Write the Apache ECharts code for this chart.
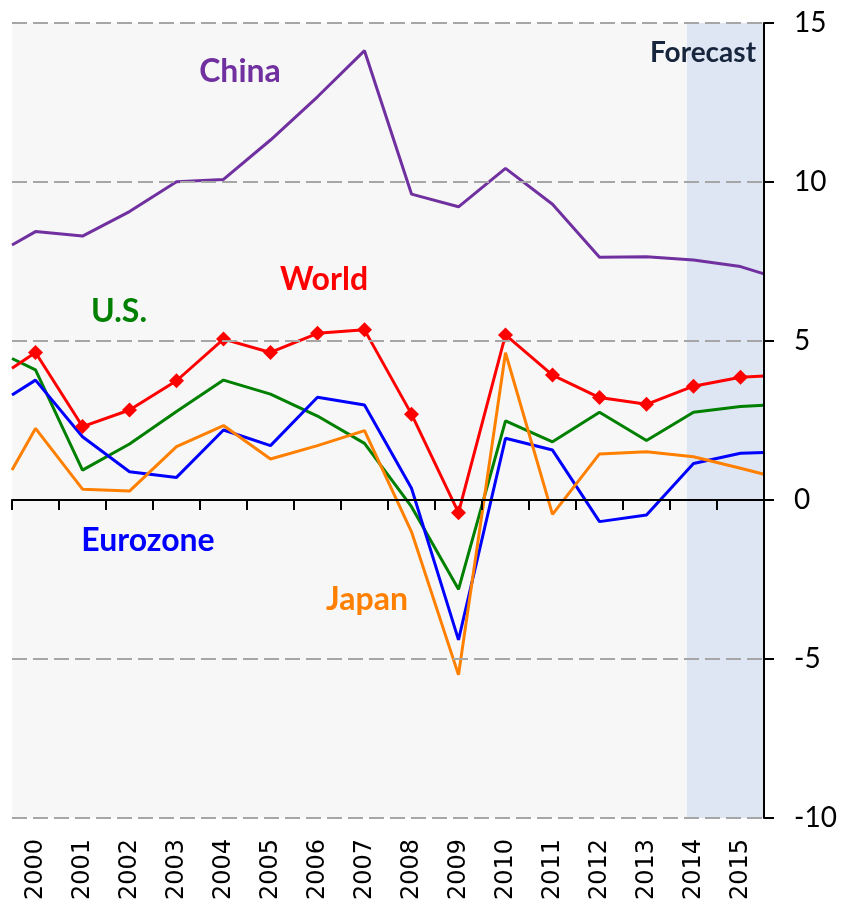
<!DOCTYPE html>
<html><head><meta charset="utf-8">
<script src="https://cdn.jsdelivr.net/npm/echarts@6/dist/echarts.min.js"></script>
<style>html,body{margin:0;padding:0;background:#fff}#c{width:842px;height:909px}</style>
</head><body><div id="c"></div>
<script>
// Category labels
const years = ['2000','2001','2002','2003','2004','2005','2006','2007','2008','2009','2010','2011','2012','2013','2014','2015'];
const yearValues = [2000,2001,2002,2003,2004,2005,2006,2007,2008,2009,2010,2011,2012,2013,2014,2015];
// Plot edges (lines run edge to edge)
const leftEdge = 1999.5, rightEdge = 2015.5;
const forecastStart = 2013.86;
// Y ticks
const yMin = -10, yMax = 15, yStep = 5;

// Series values (2000..2015) and values read at the left/right plot edges
const china    = [8.44, 8.30, 9.07, 10.01, 10.08, 11.32, 12.68, 14.13, 9.62, 9.22, 10.43, 9.30, 7.63, 7.65, 7.55, 7.34];
const chinaEdges = [8.02, 7.11];
const world    = [4.64, 2.31, 2.83, 3.75, 5.06, 4.64, 5.24, 5.35, 2.70, -0.40, 5.19, 3.93, 3.22, 3.01, 3.58, 3.86];
const worldEdges = [4.14, 3.90];
const us       = [4.09, 0.94, 1.76, 2.78, 3.77, 3.33, 2.64, 1.78, -0.21, -2.81, 2.49, 1.83, 2.76, 1.87, 2.76, 2.94];
const usEdges = [4.45, 2.98];
const eurozone = [3.77, 1.99, 0.89, 0.71, 2.20, 1.71, 3.23, 2.99, 0.37, -4.40, 1.94, 1.57, -0.68, -0.47, 1.15, 1.47];
const euroEdges = [3.30, 1.49];
const japan    = [2.25, 0.34, 0.28, 1.68, 2.34, 1.29, 1.71, 2.18, -1.00, -5.50, 4.63, -0.45, 1.45, 1.52, 1.36, 1.00];
const japanEdges = [0.94, 0.81];

function build(vals, edges) {
  const d = [{value: [leftEdge, edges[0]], symbol: 'none'}];
  vals.forEach((v, i) => d.push({value: [yearValues[i], v]}));
  d.push({value: [rightEdge, edges[1]], symbol: 'none'});
  return d;
}

const FONT = 'Lato';
function lineSeries(name, vals, edges, color, extra) {
  return Object.assign({
    name, type: 'line', xAxisIndex: 2, yAxisIndex: 0, clip: true,
    data: build(vals, edges), symbol: 'none', z: 2,
    lineStyle: {color, width: 3}, itemStyle: {color}, animation: false
  }, extra || {});
}

const chart = echarts.init(document.getElementById('c'));
chart.setOption({
  animation: false,
  backgroundColor: '#ffffff',
  grid: {left: 12, right: 78, top: 23, bottom: 91, show: true, backgroundColor: '#f7f7f7', borderWidth: 0, containLabel: false},
  xAxis: [
    {type: 'category', data: years, boundaryGap: true, position: 'bottom', z: 25,
     axisLine: {show: true, onZero: true, lineStyle: {color: '#000', width: 2}},
     axisTick: {show: true, length: 10, lineStyle: {color: '#000', width: 2}},
     axisLabel: {show: false}, splitLine: {show: false}},
    {type: 'category', data: years, boundaryGap: true, position: 'bottom',
     axisLine: {show: false, onZero: false}, axisTick: {show: false}, splitLine: {show: false},
     axisLabel: {show: true, rotate: 90, fontSize: 24, color: '#000', margin: 21, fontFamily: 'DejaVu Sans'}},
    {type: 'value', min: leftEdge, max: rightEdge, show: false, splitLine: {show: false}}
  ],
  yAxis: {
    type: 'value', position: 'right', min: yMin, max: yMax, interval: yStep, z: 20,
    axisLine: {show: true, onZero: false, lineStyle: {color: '#000', width: 2}},
    axisTick: {show: true, length: 10, lineStyle: {color: '#000', width: 2}},
    axisLabel: {fontSize: 28, color: '#000', margin: 30, fontFamily: FONT, align: 'left'},
    splitLine: {show: true, lineStyle: {color: '#a6a6a6', width: 2, type: [15, 6]}}
  },
  series: [
    lineSeries('China', china, chinaEdges, '#7030a0'),
    lineSeries('U.S.', us, usEdges, '#008000'),
    lineSeries('Eurozone', eurozone, euroEdges, '#0000ff'),
    lineSeries('Japan', japan, japanEdges, '#ff8000'),
    lineSeries('World', world, worldEdges, '#ff0000', {symbol: 'diamond', symbolSize: 15, showSymbol: true}),
    {name: 'Forecast', type: 'line', xAxisIndex: 2, yAxisIndex: 0, data: [], z: 10,
     markArea: {silent: true, itemStyle: {color: 'rgba(170,197,237,0.32)'},
       data: [[{xAxis: forecastStart, yAxis: yMin}, {xAxis: rightEdge, yAxis: yMax}]]}}
  ],
  graphic: [
    {type: 'text', x: 240, y: 72, z: 30, style: {text: 'China', fontSize: 32, fontWeight: 'bold', fontFamily: FONT, fill: '#7030a0', align: 'center', verticalAlign: 'middle'}},
    {type: 'text', x: 324, y: 280, z: 30, style: {text: 'World', fontSize: 32, fontWeight: 'bold', fontFamily: FONT, fill: '#ff0000', align: 'center', verticalAlign: 'middle'}},
    {type: 'text', x: 119, y: 312, z: 30, style: {text: 'U.S.', fontSize: 32, fontWeight: 'bold', fontFamily: FONT, fill: '#008000', align: 'center', verticalAlign: 'middle'}},
    {type: 'text', x: 148, y: 541, z: 30, style: {text: 'Eurozone', fontSize: 32, fontWeight: 'bold', fontFamily: FONT, fill: '#0000ff', align: 'center', verticalAlign: 'middle'}},
    {type: 'text', x: 367, y: 600, z: 30, style: {text: 'Japan', fontSize: 32, fontWeight: 'bold', fontFamily: FONT, fill: '#ff8000', align: 'center', verticalAlign: 'middle'}},
    {type: 'text', x: 703, y: 53, z: 30, style: {text: 'Forecast', fontSize: 28, fontWeight: 'bold', fontFamily: FONT, fill: '#17253d', align: 'center', verticalAlign: 'middle'}}
  ]
});
</script>
</body></html>
